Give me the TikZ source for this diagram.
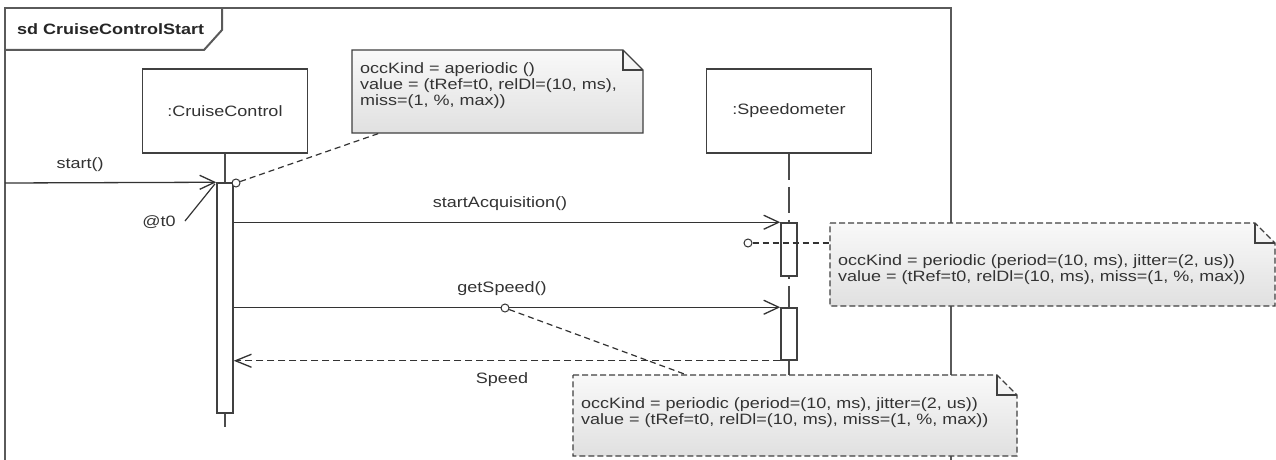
\documentclass[tikz,border=0pt]{standalone}
\usepackage{fontspec}
\setmainfont{Liberation Sans}[FakeStretch=1.2]
\usetikzlibrary{arrows.meta}
\definecolor{ink}{HTML}{333333}
\definecolor{framec}{HTML}{5A5A5A}
\begin{document}
\begin{tikzpicture}[x=1pt,y=-1pt,
  font=\fontsize{15}{16}\selectfont, text=ink,
  framestyle/.style={draw=framec, line width=2pt},
  lifebox/.style={draw=black!75, line width=1.8pt, fill=white, minimum width=165pt, minimum height=84pt, inner sep=0pt},
  actbar/.style={draw=black!75, line width=1.5pt, fill=white, minimum width=16pt, inner sep=0pt},
  lifeline/.style={draw=black!70, line width=1.5pt},
  msg/.style={draw=black!80, line width=1.3pt, -{Straight Barb[length=15pt,width=14pt,line width=1.3pt]}},
  retmsg/.style={draw=black!80, line width=1.3pt, dash pattern=on 7pt off 4pt, -{Straight Barb[length=16pt,width=13pt,line width=1.3pt]}},
  conn/.style={draw=black!80, line width=1.2pt, dash pattern=on 6pt off 4pt},
  occ/.style={circle, draw=black!80, line width=1pt, fill=white, inner sep=0pt, minimum size=8pt},
  notefill/.style={top color=gray!5, bottom color=gray!24, draw=black!75, line width=1.2pt},
  notetext/.style={anchor=west, align=left, inner sep=0pt},
  fold/.style={draw=black!75, line width=1.2pt},
  lbl/.style={inner sep=0pt}
]
\useasboundingbox (0,0) rectangle (1276,460);
\fill[white] (0,0) rectangle (1276,460);

% frame
\draw[framestyle] (5,460) -- (5,8) -- (951,8) -- (951,460);
\draw[framestyle] (5,50) -- (204,50) -- (222,30) -- (222,8);
\node[lbl, anchor=west, font=\fontsize{15}{16}\selectfont\bfseries, text=black!85] (title) at (17,29) {sd CruiseControlStart};

% lifeline heads
\node[lifebox] (cc) at (225,111) {:CruiseControl};
\node[lifebox] (sp) at (789,111) {:Speedometer};

% lifelines
\coordinate (ccend) at (225,427);
\coordinate (spend) at (789,376);
\draw[lifeline] (cc.south) -- (ccend);
\draw[lifeline, dash pattern=on 26pt off 7pt] (sp.south) -- (spend);

% activation bars
\node[actbar, minimum height=230pt] (b1) at (225,298) {};
\node[actbar, minimum height=53pt] (b2) at (789,249.5) {};
\node[actbar, minimum height=52pt] (b3) at (789,334) {};

% messages
\coordinate (startsrc) at (5,183);
\draw[msg] (startsrc) -- (b1.north west);
\node[lbl] (lstart) at (80,165) {start()};

\draw[msg] (b1.east |- b2.north) -- (b2.north west);
\node[lbl] (lacq) at (500,204) {startAcquisition()};

\draw[msg] (b1.east |- b3.north) -- (b3.north west);
\node[lbl] (lget) at (502,289) {getSpeed()};

\draw[retmsg] (b3.south west) -- (b1.east |- b3.south);
\node[lbl] (lspeed) at (502,380) {Speed};

% @t0
\node[lbl] (t0) at (159,222) {@t0};
\coordinate (t0a) at (185,221);
\draw[draw=black!80, line width=1.2pt, shorten >=2pt] (t0a) -- (b1.north west);

% note 1
\path[notefill] (352,50) -- (623,50) -- (643,70) -- (643,133) -- (352,133) -- cycle;
\draw[fold] (623,50) -- (623,70) -- (643,70);
\node[notetext] (n1) at (360,86) {occKind = aperiodic ()\\value = (tRef=t0, relDl=(10, ms),\\miss=(1, \%, max))};

% note 2
\path[notefill, dash pattern=on 6pt off 3pt] (830,223) -- (1255,223) -- (1275,243) -- (1275,306) -- (830,306) -- cycle;
\draw[fold] (1255,223) -- (1255,243) -- (1275,243);
\node[notetext] (n2) at (838,269.5) {occKind = periodic (period=(10, ms), jitter=(2, us))\\value = (tRef=t0, relDl=(10, ms), miss=(1, \%, max))};

% note 3
\path[notefill, dash pattern=on 6pt off 3pt] (573,375) -- (997,375) -- (1017,395) -- (1017,456) -- (573,456) -- cycle;
\draw[fold] (997,375) -- (997,395) -- (1017,395);
\node[notetext] (n3) at (581,413) {occKind = periodic (period=(10, ms), jitter=(2, us))\\value = (tRef=t0, relDl=(10, ms), miss=(1, \%, max))};

% occurrence circles and connectors
\node[occ] (c1) at (236,183) {};
\node[occ] (c2) at (748,243) {};
\node[occ] (c3) at (505,308) {};
\coordinate (n1a) at (380,133);
\coordinate (n2a) at (830,243);
\coordinate (n3a) at (687,375);
\draw[conn] (c1) -- (n1a);
\draw[conn] (c2) -- (n2a);
\draw[conn] (c3) -- (n3a);
\end{tikzpicture}
\end{document}
